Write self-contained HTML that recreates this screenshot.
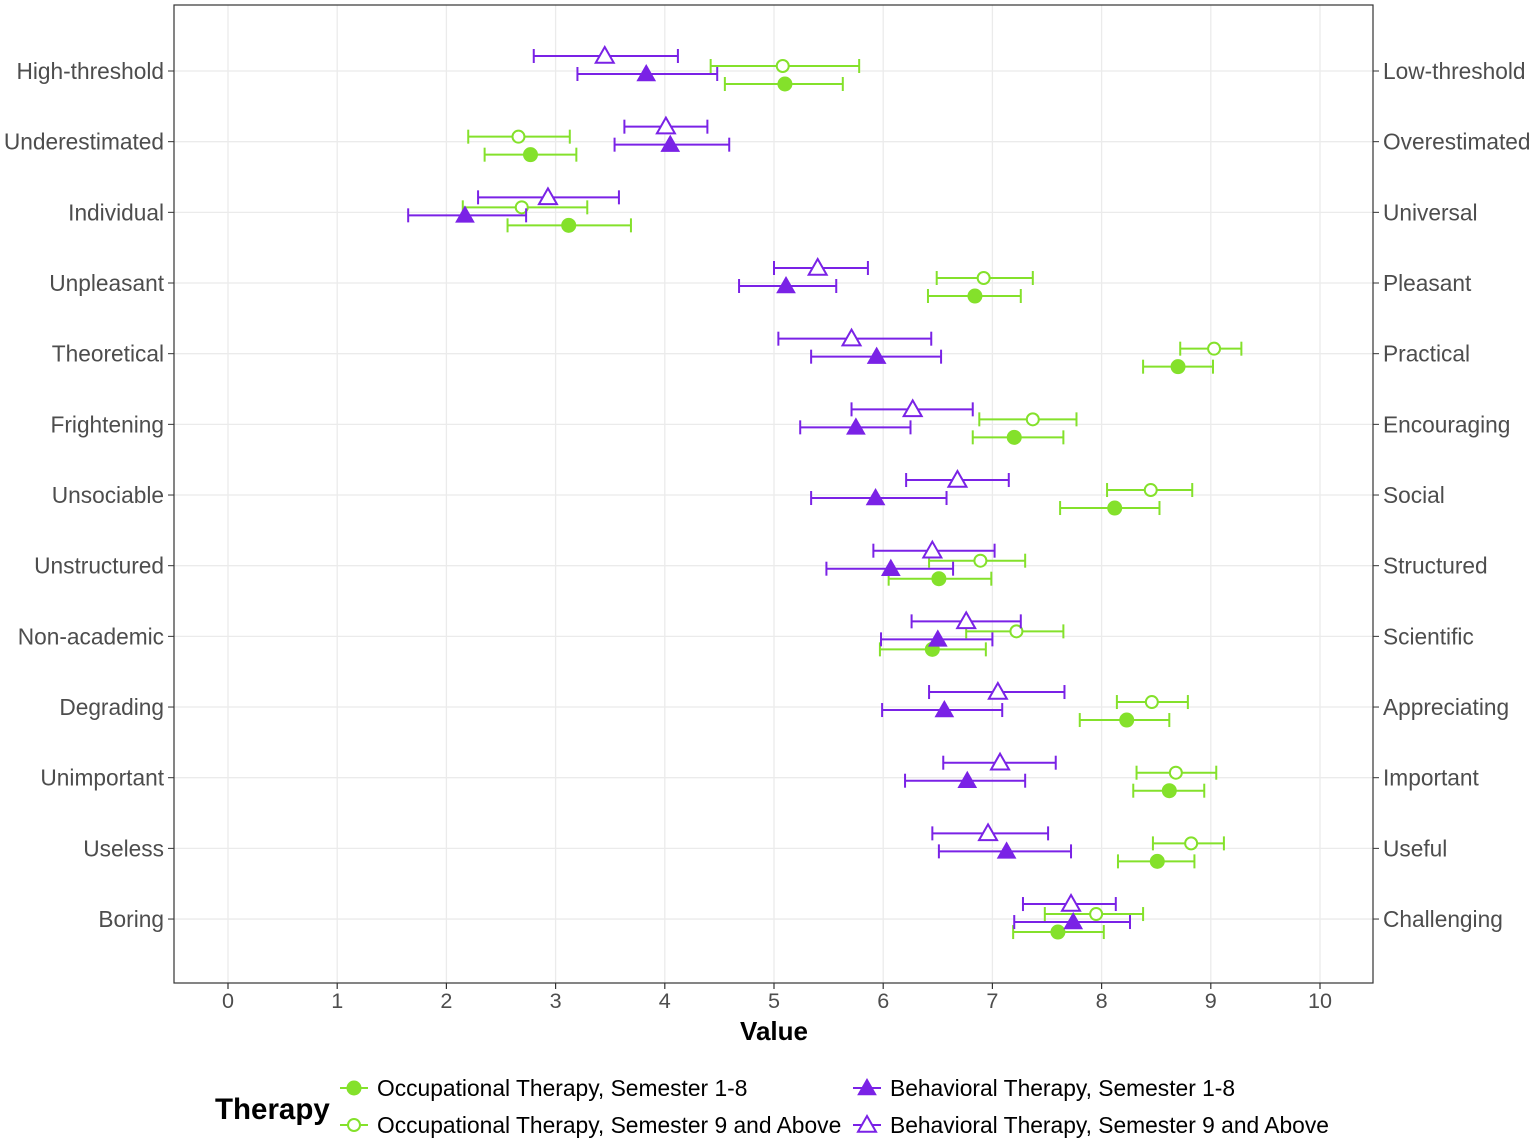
<!DOCTYPE html>
<html><head><meta charset="utf-8"><style>
body{margin:0;background:#fff;font-family:"Liberation Sans",Arial,sans-serif;}
svg text{font-family:"Liberation Sans",Arial,sans-serif;}
</style></head><body>
<svg id="chart" width="1535" height="1143" xmlns="http://www.w3.org/2000/svg">
<rect width="1535" height="1143" fill="#fff"/>
<g id="grid"></g>
<g id="marks"></g>
<rect x="174" y="5" width="1199" height="978" fill="none" stroke="#333" stroke-width="1.2"/>
<g id="labels"></g>
<text x="774" y="1040" text-anchor="middle" font-size="26" font-weight="bold" fill="#000">Value</text>
<g id="legend">
<text x="215" y="1119" font-size="29.5" font-weight="bold">Therapy</text>
</g>
</svg>
<script>
const leftLabels=["High-threshold","Underestimated","Individual","Unpleasant","Theoretical","Frightening","Unsociable","Unstructured","Non-academic","Degrading","Unimportant","Useless","Boring"];
const rightLabels=["Low-threshold","Overestimated","Universal","Pleasant","Practical","Encouraging","Social","Structured","Scientific","Appreciating","Important","Useful","Challenging"];
const xTicks=[0,1,2,3,4,5,6,7,8,9,10];
const ot18Mean=[5.1,2.77,3.12,6.84,8.7,7.2,8.12,6.51,6.45,8.23,8.62,8.51,7.6];
const ot18Lo=[4.55,2.35,2.56,6.41,8.38,6.82,7.62,6.05,5.97,7.8,8.29,8.15,7.19];
const ot18Hi=[5.63,3.19,3.69,7.26,9.02,7.65,8.53,6.99,6.94,8.62,8.94,8.85,8.02];
const ot9Mean=[5.08,2.66,2.69,6.92,9.03,7.37,8.45,6.89,7.22,8.46,8.68,8.82,7.95];
const ot9Lo=[4.42,2.2,2.15,6.49,8.72,6.88,8.05,6.42,6.76,8.14,8.32,8.47,7.48];
const ot9Hi=[5.78,3.13,3.29,7.37,9.28,7.77,8.83,7.3,7.65,8.79,9.05,9.12,8.38];
const bt18Mean=[3.83,4.05,2.17,5.11,5.94,5.75,5.93,6.07,6.5,6.56,6.77,7.13,7.74];
const bt18Lo=[3.2,3.54,1.65,4.68,5.34,5.24,5.34,5.48,5.98,5.99,6.2,6.51,7.2];
const bt18Hi=[4.48,4.59,2.73,5.57,6.53,6.25,6.58,6.64,7.0,7.09,7.3,7.72,8.26];
const bt9Mean=[3.45,4.01,2.93,5.4,5.71,6.27,6.68,6.45,6.76,7.05,7.07,6.96,7.72];
const bt9Lo=[2.8,3.63,2.29,5.0,5.04,5.71,6.21,5.91,6.26,6.42,6.55,6.45,7.28];
const bt9Hi=[4.12,4.39,3.58,5.86,6.44,6.82,7.15,7.02,7.26,7.66,7.58,7.51,8.13];

const G="#84E12B",P="#7A22E6",NS="http://www.w3.org/2000/svg";
const xs=v=>228+v*109.2;
const ys=i=>71+i*70.67;
function mk(tag,attrs,parent){const e=document.createElementNS(NS,tag);for(const k in attrs)e.setAttribute(k,attrs[k]);parent.appendChild(e);return e;}
const grid=document.getElementById('grid'),marks=document.getElementById('marks'),labels=document.getElementById('labels');
xTicks.forEach(t=>{
  const l=mk('line',{x1:xs(t),x2:xs(t),y1:5,y2:983,stroke:'#ebebeb','stroke-width':1.3},grid);
  
  
  const tk=mk('line',{x1:xs(t),x2:xs(t),y1:983,y2:989,stroke:'#333','stroke-width':1.2},labels);
  
  
  const tx=mk('text',{x:xs(t),y:1008,'text-anchor':'middle','font-size':21.6,fill:'#4d4d4d'},labels);
  tx.textContent=t;
  
  
});
leftLabels.forEach((lab,i)=>{
  const l=mk('line',{x1:174,x2:1373,y1:ys(i),y2:ys(i),stroke:'#ebebeb','stroke-width':1.3},grid);
  
  
  mk('line',{x1:168,x2:174,y1:ys(i),y2:ys(i),stroke:'#333'},labels);
  mk('line',{x1:1373,x2:1379,y1:ys(i),y2:ys(i),stroke:'#333'},labels);
  const a=mk('text',{x:164,y:ys(i)+8,'text-anchor':'end','font-size':22.7,fill:'#4d4d4d'},labels);
  a.textContent=lab;
  
  
  const b=mk('text',{x:1383,y:ys(i)+8,'font-size':22.7,fill:'#4d4d4d'},labels);
  b.textContent=rightLabels[i];
  
  
});
function marker(shape,filled,color,cx,cy,parent){
  if(shape==='c'){
    return mk('circle',{cx:cx,cy:cy,r:filled?7:6,fill:filled?color:'#fff',stroke:color,'stroke-width':filled?1:2},parent);
  }else{
    const s=9;
    return mk('polygon',{points:`${cx},${cy-s} ${cx+s},${cy+s*0.75} ${cx-s},${cy+s*0.75}`,fill:filled?color:'#fff',stroke:color,'stroke-width':filled?1:2},parent);
  }
}
const series=[
 {name:'ot-sem1-8',m:ot18Mean,lo:ot18Lo,hi:ot18Hi,off:13,c:G,shape:'c',f:true},
 {name:'ot-sem9',m:ot9Mean,lo:ot9Lo,hi:ot9Hi,off:-5,c:G,shape:'c',f:false},
 {name:'bt-sem1-8',m:bt18Mean,lo:bt18Lo,hi:bt18Hi,off:3,c:P,shape:'t',f:true},
 {name:'bt-sem9',m:bt9Mean,lo:bt9Lo,hi:bt9Hi,off:-15,c:P,shape:'t',f:false}
];
series.forEach(s=>{
  s.m.forEach((v,i)=>{
    const y=ys(i)+s.off;
    const g=mk('g',{},marks);
    
    
    mk('line',{x1:xs(s.lo[i]),x2:xs(s.hi[i]),y1:y,y2:y,stroke:s.c,'stroke-width':2},g);
    mk('line',{x1:xs(s.lo[i]),x2:xs(s.lo[i]),y1:y-7,y2:y+7,stroke:s.c,'stroke-width':2},g);
    mk('line',{x1:xs(s.hi[i]),x2:xs(s.hi[i]),y1:y-7,y2:y+7,stroke:s.c,'stroke-width':2},g);
    marker(s.shape,s.f,s.c,xs(v),y,g);
  });
});
const legend=document.getElementById('legend');
const items=[
 {t:'Occupational Therapy, Semester 1-8',x:340,y:1088,c:G,s:'c',f:true},
 {t:'Occupational Therapy, Semester 9 and Above',x:340,y:1125,c:G,s:'c',f:false},
 {t:'Behavioral Therapy, Semester 1-8',x:853,y:1088,c:P,s:'t',f:true},
 {t:'Behavioral Therapy, Semester 9 and Above',x:853,y:1125,c:P,s:'t',f:false}
];
items.forEach(it=>{
  const g=mk('g',{},legend);
  
  
  mk('line',{x1:it.x,x2:it.x+28,y1:it.y,y2:it.y,stroke:it.c,'stroke-width':2},g);
  marker(it.s,it.f,it.c,it.x+14,it.y,g);
  const tx=mk('text',{x:it.x+37,y:it.y+8,'font-size':22.8,fill:'#000'},g);
  tx.textContent=it.t;
});
</script>
</body></html>
